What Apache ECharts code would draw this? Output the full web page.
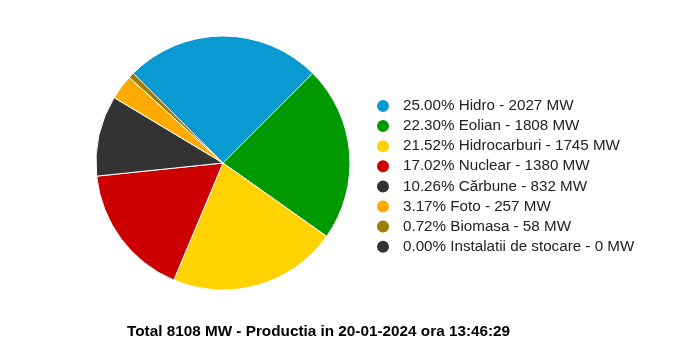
<!DOCTYPE html>
<html><head><meta charset="utf-8">
<script src="https://cdn.jsdelivr.net/npm/echarts@6/dist/echarts.min.js"></script>
<style>html,body{margin:0;padding:0;background:#fff}#c{width:700px;height:357px}</style>
</head><body><div id="c"></div>
<script>
const categories = ["Hidro","Eolian","Hidrocarburi","Nuclear","Cărbune","Foto","Biomasa","Instalatii de stocare"];
const values = [2027,1808,1745,1380,832,257,58,0];
const colors = ["#0a9ad2","#009900","#ffd200","#cc0000","#333333","#ffaa00","#9c7f00","#333333"];
const titleText = "Total 8108 MW - Productia in 20-01-2024 ora 13:46:29";

const total = values.reduce((a,b)=>a+b,0);
const chart = echarts.init(document.getElementById('c'));
chart.setOption({
  animation:false,
  title:{text:titleText,left:122,top:319,textStyle:{fontFamily:'Liberation Sans',fontSize:15.3,fontWeight:'bold',color:'#000'}},
  legend:{orient:'vertical',left:370,top:93,icon:'circle',itemWidth:14,itemHeight:14,itemGap:4.1,
    textStyle:{fontFamily:'Liberation Sans',fontSize:15.2,color:'#222',padding:[0,0,0,8]},
    formatter:function(n){const i=categories.indexOf(n);return (values[i]/total*100).toFixed(2)+'% '+n+' - '+values[i]+' MW';}},
  series:[{type:'pie',center:[223,163],radius:[0,127],startAngle:135,clockwise:true,
    label:{show:false},labelLine:{show:false},
    itemStyle:{borderColor:'#fff',borderWidth:1},
    stillShowZeroSum:true,
    data:categories.map((c,i)=>({name:c,value:values[i],itemStyle:{color:colors[i]}}))}]
});
</script></body></html>
